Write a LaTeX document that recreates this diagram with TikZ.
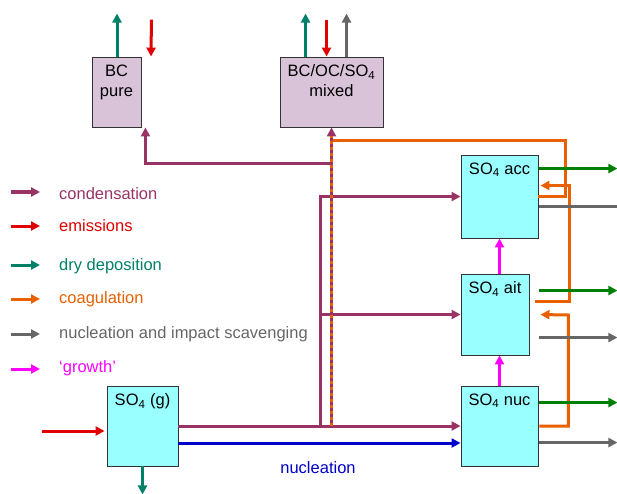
\documentclass[tikz,border=0pt]{standalone}
\usepackage{fontspec}
\setmainfont{Liberation Sans}
\usetikzlibrary{arrows.meta}
\definecolor{colcond}{HTML}{993366}
\definecolor{colemis}{HTML}{E00000}
\definecolor{coldep}{HTML}{008066}
\definecolor{coldepr}{HTML}{008000}
\definecolor{colcoag}{HTML}{E86000}
\definecolor{colscav}{HTML}{666666}
\definecolor{colgrow}{HTML}{FF00FF}
\definecolor{colnucl}{HTML}{0000CC}
\definecolor{colmode}{HTML}{99FFFF}
\definecolor{colcarb}{HTML}{D9C3D9}

\begin{document}
\begin{tikzpicture}[x=1pt,y=-1pt,font=\fontsize{16.5}{20}\selectfont,
    flow/.style={line width=3pt,-{Triangle[length=9pt,width=9pt]}},
    plain/.style={line width=3pt},
    box/.style={draw=black!80,line width=0.9pt,inner sep=0pt},
    title/.style={anchor=north,align=center,inner sep=0pt,yshift=-8pt}]
        \useasboundingbox (0,0) rectangle (617,494);
        \pgfmathsetmacro{\rx}{10}
        \node[box,fill=colcarb,minimum width=49pt,minimum height=70pt] (bc) at (116.5,92) {};
        \node[title] (bc-t) at (bc.north) {BC\\pure};
        \node[box,fill=colcarb,minimum width=103pt,minimum height=70pt] (mixed) at (331.5,92) {};
        \node[title] (mixed-t) at (mixed.north) {BC/OC/SO\textsubscript{4}\\mixed};
        \node[box,fill=colmode,minimum width=77pt,minimum height=83pt] (acc) at (499.5,196.5) {};
        \node[title] (acc-t) at (acc.north) {SO\textsubscript{4} acc};
        \node[box,fill=colmode,minimum width=68pt,minimum height=81pt] (ait) at (495,314.5) {};
        \node[title] (ait-t) at (ait.north) {SO\textsubscript{4} ait};
        \node[box,fill=colmode,minimum width=77pt,minimum height=80pt] (nuc) at (499.5,426) {};
        \node[title] (nuc-t) at (nuc.north) {SO\textsubscript{4} nuc};
        \node[box,fill=colmode,minimum width=71pt,minimum height=80pt] (gas) at (142.5,426) {};
        \node[title] (gas-t) at (gas.north) {SO\textsubscript{4} (g)};
        \coordinate (cj) at (gas.east -| 320,0);
        \coordinate (dj) at (gas.east -| mixed.south);

        \foreach \a/\b/\c/\t in {192/200/colcond/condensation,226/231/colemis/emissions,265/270/coldep/dry deposition,
                                 299/303/colcoag/coagulation,334/338/colscav/nucleation and impact scavenging,369/372/colgrow/`growth'} {
            \draw[flow,\c] (11,\a) -- (40,\a);
            \node[anchor=base west,inner sep=0pt,text=\c] (leg-\c) at (59,\b) {\t};
        }

        \draw[flow,coldep] ([xshift=0.5pt]bc.north) -- ++(0,-43);
        \draw[flow,colemis] ([shift={(10pt,37pt)}]bc.north east) -- (bc.north east -| 151,0);
        \draw[flow,coldep] ([xshift=26pt]mixed.north west) -- ++(0,-43);
        \draw[flow,colemis] ([shift={(47pt,37pt)}]mixed.north west) -- ([xshift=47pt]mixed.north west);
        \draw[flow,colscav] ([xshift=67pt]mixed.north west) -- ++(0,-43);

        \draw[flow,colemis] ([shift={(-65pt,-5pt)}]gas.west) -- ([shift={(-2pt,-5pt)}]gas.west);
        \draw[flow,coldep] (gas.south) -- ++(0,28);

        \draw[plain,colcoag] ([yshift=-42pt]acc.north east) -- ++(27,0) |- (dj |- 0,141);
        \draw[flow,colcoag] ([shift={(6pt,-28pt)}]ait.north east) -| ++(34,-116) -- ([shift={(2pt,-31pt)}]acc.north east);
        \draw[flow,colcoag] ([xshift=1pt]nuc.east) -| ++(29,-111) -- ([shift={(11pt,-41pt)}]ait.north east);

        \draw[flow,coldepr] ([shift={(1pt,-14pt)}]acc.north east) -- ++(78,0);
        \draw[plain,colscav] ([shift={(1pt,-52pt)}]acc.north east) -- ++(78,0);
        \draw[flow,coldepr] ([shift={(\rx pt,-17pt)}]ait.north east) -- ++(78,0);
        \draw[flow,colscav] ([shift={(\rx pt,-64pt)}]ait.north east) -- ++(78,0);
        \draw[flow,coldepr] ([shift={(1pt,-17pt)}]nuc.north east) -- ++(78,0);
        \draw[flow,colscav] ([shift={(1pt,-57pt)}]nuc.north east) -- ++(78,0);

        \draw[flow,colgrow] (ait.north -| acc.south) -- (acc.south);
        \draw[flow,colgrow] (nuc.north) -- (ait.south -| nuc.north);

        \draw[flow,colcond] (gas.east) -- (nuc.west);
        \draw[flow,colcond] (cj) |- ([yshift=-42pt]acc.north west);
        \draw[flow,colcond] (cj |- ait.west) -- (ait.west);
        \draw[flow,colcond] (dj |- 0,164) -| ([xshift=4pt]bc.south east);
        \draw[flow,colcond] (dj) -- (mixed.south);
        \draw[plain,colcoag,dash pattern=on 3pt off 3pt] (dj) -- ([yshift=-9pt]mixed.south);

        \draw[flow,colnucl] ([yshift=-17pt]gas.east) -- ([yshift=-17pt]nuc.west);
        \node[text=colnucl] (nucl-t) at (318,468) {nucleation};
    \end{tikzpicture}
\end{document}
